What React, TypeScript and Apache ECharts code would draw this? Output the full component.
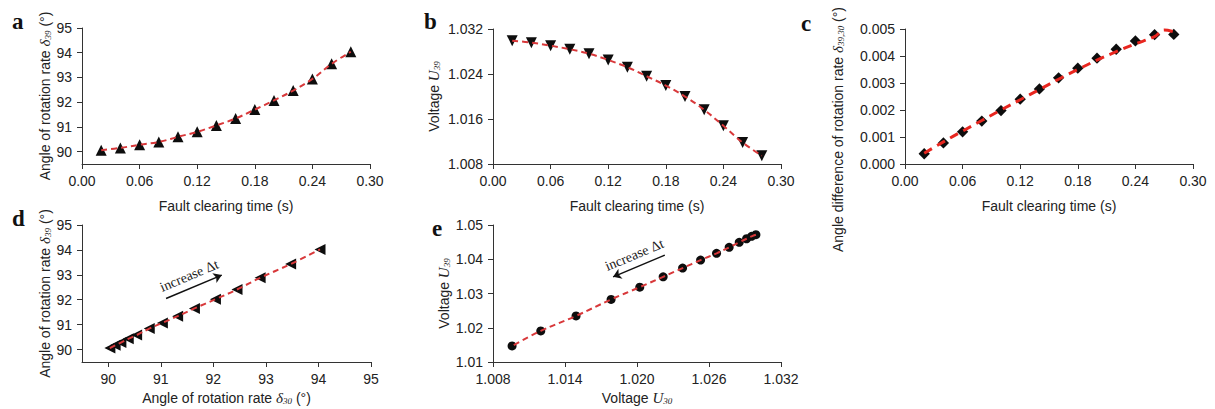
import React, { useEffect, useRef } from "react";
import * as echarts from "echarts";

// ---- data ----
const faultTime = [0.02, 0.04, 0.06, 0.08, 0.1, 0.12, 0.14, 0.16, 0.18, 0.2, 0.22, 0.24, 0.26, 0.28];
const timeTicks = [0, 0.06, 0.12, 0.18, 0.24, 0.3];

// a: angle of rotation rate delta39 vs fault clearing time
const angle39 = [90.06, 90.15, 90.28, 90.39, 90.6, 90.8, 91.06, 91.34, 91.7, 92.07, 92.47, 92.94, 93.55, 94.04];
const angleTicks = [90, 91, 92, 93, 94, 95];

// b: voltage U39 vs fault clearing time
const voltageB = [1.02993, 1.02957, 1.02904, 1.0284, 1.02762, 1.0265, 1.0252, 1.02361, 1.02194, 1.01999, 1.01763, 1.01479, 1.01183, 1.00947];
const voltageBTicks = [1.008, 1.016, 1.024, 1.032];

// c: angle difference of rotation rate vs fault clearing time
const angleDiff = [0.00038, 0.00078, 0.00119, 0.00159, 0.00198, 0.0024, 0.00278, 0.00319, 0.00355, 0.00392, 0.00425, 0.00456, 0.00479, 0.0048];
const angleDiffFitTime = [0.02, 0.04, 0.06, 0.08, 0.1, 0.12, 0.14, 0.16, 0.18, 0.2, 0.22, 0.24, 0.26, 0.27, 0.28];
const angleDiffFit = [0.0004, 0.00082, 0.00122, 0.00161, 0.002, 0.00238, 0.00276, 0.00314, 0.0035, 0.00385, 0.00416, 0.00445, 0.00472, 0.00496, 0.0049];
const angleDiffTicks = [0, 0.001, 0.002, 0.003, 0.004, 0.005];

// d: delta39 vs delta30
const angle30D = [90.03, 90.13, 90.24, 90.38, 90.54, 90.78, 91.03, 91.32, 91.64, 92.04, 92.45, 92.89, 93.47, 94.03];
const angle39D = [90.06, 90.17, 90.28, 90.43, 90.58, 90.84, 91.07, 91.34, 91.65, 92.02, 92.41, 92.88, 93.43, 94.02];
const arrowD = [[91.1, 92.05], [92.16, 92.99]];

// e: U39 vs U30
const voltage30E = [1.02991, 1.02955, 1.02913, 1.02852, 1.02768, 1.02663, 1.0253, 1.0238, 1.02218, 1.02023, 1.01784, 1.01492, 1.01198, 1.00959];
const voltage39E = [1.04716, 1.04669, 1.04599, 1.04494, 1.04347, 1.04172, 1.03976, 1.03742, 1.03487, 1.03186, 1.02826, 1.02346, 1.01907, 1.01468];
const voltageEXTicks = [1.008, 1.014, 1.02, 1.026, 1.032];
const voltageEYTicks = [1.01, 1.02, 1.03, 1.04, 1.05];
const arrowE = [[1.01801, 1.03487], [1.02232, 1.04122]];

const panelLetters = ["a", "b", "c", "d", "e"];

const SANS = "'Liberation Sans', Arial, sans-serif";
const SERIF = "'Liberation Serif', 'Times New Roman', serif";
const TXT = "#222";
const RED = "#d8383a";
const RED_C = "#e8261f";

const rich = {
  t: { fontSize: 14, fontFamily: SANS, color: TXT },
  i: { fontSize: 15, fontFamily: SERIF, fontStyle: "italic", color: TXT },
  s: { fontSize: 9, fontFamily: SERIF, fontStyle: "italic", color: TXT, verticalAlign: "bottom", lineHeight: 10 },
};

const zip = (xs: number[], ys: number[]) => xs.map((x, i) => [x, ys[i]]);

function axisBase(
  gridIndex: number,
  min: number,
  max: number,
  ticks: number[],
  digits: number,
  name: string,
  nameGap: number,
  extraName: any = {}
) {
  return {
    type: "value",
    gridIndex,
    min,
    max,
    name,
    nameLocation: "middle",
    nameGap,
    nameTextStyle: { fontSize: 14, fontFamily: SANS, color: TXT, rich, ...extraName },
    axisLine: { show: true, onZero: false, lineStyle: { color: "#333", width: 1 } },
    axisTick: { show: true, inside: false, length: 5, customValues: ticks, lineStyle: { color: "#333", width: 1 } },
    axisLabel: {
      show: true,
      customValues: ticks,
      fontSize: 14,
      fontFamily: SANS,
      color: TXT,
      margin: 10,
      formatter: (v: number) => v.toFixed(digits),
    },
    splitLine: { show: false },
  };
}

const timeName = "Fault clearing time (s)";

export default function App() {
  const ref = useRef<HTMLDivElement>(null);
  useEffect(() => {
    if (!ref.current) return;
    const chart = echarts.init(ref.current, undefined, { renderer: "svg" });

    const dashedLine = (xi: number, data: number[][], color = RED, width = 2, dash = [6, 4]) => ({
      type: "line",
      xAxisIndex: xi,
      yAxisIndex: xi,
      data,
      smooth: 0.4,
      showSymbol: false,
      symbol: "none",
      z: 4,
      lineStyle: { color, width, type: dash },
    });

    const markers = (xi: number, data: number[][], symbol: string, size: number, rotate = 0, extra: any = {}) => ({
      type: "scatter",
      xAxisIndex: xi,
      yAxisIndex: xi,
      data,
      symbol,
      symbolSize: size,
      symbolRotate: rotate,
      z: 3,
      itemStyle: { color: "#0d0d0d", opacity: 1 },
      ...extra,
    });

    const arrowMark = (pts: number[][], symbols: string[]) => ({
      markLine: {
        silent: true,
        symbol: symbols,
        symbolSize: 8,
        lineStyle: { color: "#111", width: 1.5, type: "solid", opacity: 1 },
        label: {
          show: true,
          formatter: "increase Δt",
          position: "insideMiddleTop",
          distance: 5,
          fontFamily: SERIF,
          fontSize: 14,
          color: TXT,
        },
        emphasis: { disabled: true },
        data: [[{ coord: pts[0] }, { coord: pts[1] }]],
      },
    });

    const letterPos = [
      [12, 21],
      [424, 21],
      [801, 23],
      [12, 218],
      [432, 228],
    ];

    const option: any = {
      animation: false,
      grid: [
        { left: 82, top: 28, width: 288, height: 136 },
        { left: 493, top: 29, width: 288, height: 135 },
        { left: 905, top: 29, width: 288, height: 135 },
        { left: 82, top: 225, width: 289, height: 137 },
        { left: 493, top: 225, width: 288, height: 137 },
      ],
      xAxis: [
        axisBase(0, 0, 0.3, timeTicks, 2, timeName, 35),
        axisBase(1, 0, 0.3, timeTicks, 2, timeName, 35),
        axisBase(2, 0, 0.3, timeTicks, 2, timeName, 35),
        axisBase(3, 89.5, 95, angleTicks, 0, "{t|Angle of rotation rate }{i|δ}{s|30}{t| (°)}", 28),
        axisBase(4, 1.008, 1.032, voltageEXTicks, 3, "{t|Voltage }{i|U}{s|30}", 28),
      ],
      yAxis: [
        axisBase(0, 89.5, 95, angleTicks, 0, "{t|Angle of rotation rate }{i|δ}{s|39}{t| (°)}", 30),
        axisBase(1, 1.008, 1.032, voltageBTicks, 3, "{t|Voltage }{i|U}{s|39}", 52),
        axisBase(2, 0, 0.005, angleDiffTicks, 3, "{t|Angle difference of rotation rate }{i|δ}{s|39,30}{t| (°)}", 60, {
          padding: [0, 66, 0, 0],
        }),
        axisBase(3, 89.5, 95, angleTicks, 0, "{t|Angle of rotation rate }{i|δ}{s|39}{t| (°)}", 30),
        axisBase(4, 1.01, 1.05, voltageEYTicks, 2, "{t|Voltage }{i|U}{s|39}", 35),
      ],
      series: [
        markers(0, zip(faultTime, angle39), "triangle", 11),
        dashedLine(0, zip(faultTime, angle39)),
        markers(1, zip(faultTime, voltageB), "triangle", 11, 180),
        dashedLine(1, zip(faultTime, voltageB)),
        markers(2, zip(faultTime, angleDiff), "rect", 8, 45),
        dashedLine(2, zip(angleDiffFitTime, angleDiffFit), RED_C, 3, [9, 6]),
        markers(3, zip(angle30D, angle39D), "triangle", 11, 90, arrowMark(arrowD, ["none", "arrow"])),
        dashedLine(3, zip(angle30D, angle39D)),
        markers(4, zip(voltage30E, voltage39E), "circle", 9, 0, arrowMark(arrowE, ["arrow", "none"])),
        dashedLine(4, zip(voltage30E, voltage39E)),
      ],
      graphic: panelLetters.map((l, i) => ({
        type: "text",
        x: letterPos[i][0],
        y: letterPos[i][1],
        style: {
          text: l,
          fontFamily: SERIF,
          fontWeight: "bold",
          fontSize: 23,
          fill: "#111",
          verticalAlign: "middle",
          align: "left",
        },
      })),
    };
    chart.setOption(option);
    return () => chart.dispose();
  }, []);
  return (
    <div
      ref={ref}
      style={{ position: "fixed", left: 0, top: 0, width: 1215, height: 409, background: "#fff" }}
    />
  );
}
